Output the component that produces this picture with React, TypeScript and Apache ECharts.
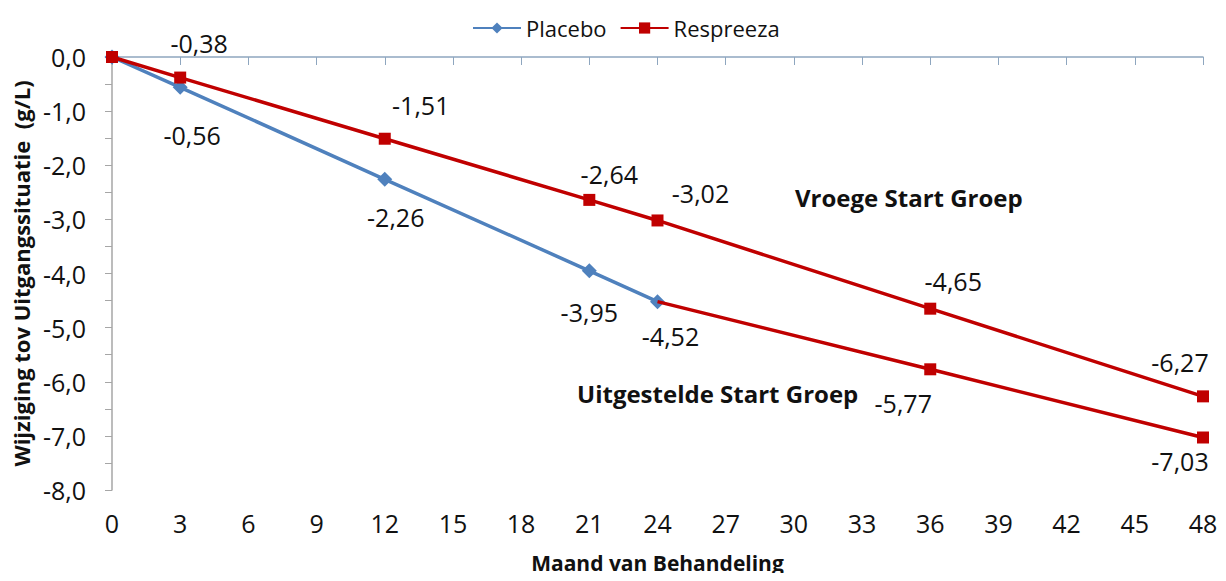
import React, { useEffect, useRef } from "react";
import * as echarts from "echarts";

const months = [0, 3, 12, 21, 24, 36, 48];
const placeboValues = [0, -0.56, -2.26, -3.95, -4.52];
const earlyValues = [0, -0.38, -1.51, -2.64, -3.02, -4.65, -6.27];
const delayedMonths = [24, 36, 48];
const delayedValues = [-4.52, -5.77, -7.03];
const yTicks = [0, -1, -2, -3, -4, -5, -6, -7, -8];

const placeboOffsets = [null, [12, 48], [11, 38], [0, 41], [13, 34]];
const earlyOffsets = [null, [19, -35], [36, -34], [20, -26], [43, -27], [23, -28], [-23, -34]];
const delayedOffsets = [null, [-27, 34], [-23, 24]];

const FONT = "'Open Sans', 'Noto Sans', sans-serif";
const fmt = (v: number, d = 2) => v.toFixed(d).replace(".", ",");

function buildData(xs: number[], ys: number[], offsets: (number[] | null)[], hideFirstSymbol = false) {
  return ys.map((v, i) => {
    const off = offsets[i];
    const item: any = { value: [xs[i], v] };
    if (off) {
      item.label = {
        show: true,
        position: "inside",
        offset: off,
        formatter: fmt(v),
        fontSize: 25,
        color: "#111",
        fontFamily: FONT,
      };
    }
    if (hideFirstSymbol && i === 0) item.symbolSize = 0;
    return item;
  });
}

export default function App() {
  const ref = useRef<HTMLDivElement>(null);
  useEffect(() => {
    const chart = echarts.init(ref.current!, null, { renderer: "svg" });
    chart.setOption({
      animation: false,
      legend: {
        data: ["Placebo", "Respreeza"],
        top: 12,
        left: 467,
        itemWidth: 48,
        itemHeight: 14,
        itemGap: 13,
        textStyle: { fontSize: 22, fontFamily: FONT, color: "#111" },
      },
      grid: { left: 112, right: 23, top: 57, bottom: 91, containLabel: false },
      xAxis: {
        type: "value",
        min: 0,
        max: 48,
        interval: 3,
        name: "Maand van Behandeling",
        nameLocation: "middle",
        nameGap: 62,
        nameTextStyle: { fontSize: 21, fontWeight: "bold", fontFamily: FONT, color: "#111" },
        axisLine: { lineStyle: { color: "#8EA6BF", width: 1.5 } },
        axisTick: { show: true, length: 8, lineStyle: { color: "#8EA6BF" } },
        axisLabel: { fontSize: 25, fontFamily: FONT, color: "#111", margin: 20 },
        splitLine: { show: false },
      },
      yAxis: {
        type: "value",
        min: -8,
        max: 0,
        interval: 1,
        name: "Wijziging tov Uitgangssituatie  (g/L)",
        nameLocation: "middle",
        nameGap: 80,
        nameRotate: 90,
        nameTextStyle: { fontSize: 22, fontWeight: "bold", fontFamily: FONT, color: "#111" },
        axisLine: { show: true, lineStyle: { color: "#A6A6A6", width: 1.5 } },
        axisTick: { show: true, length: 7, inside: false, lineStyle: { color: "#A6A6A6" } },
        minorTick: { show: true, splitNumber: 2, length: 7, lineStyle: { color: "#A6A6A6" } },
        axisLabel: {
          fontSize: 25,
          fontFamily: FONT,
          color: "#111",
          margin: 26,
          formatter: (v: number) => (yTicks.includes(v) ? fmt(v, 1) : ""),
        },
        splitLine: { show: false },
      },
      series: [
        {
          name: "Respreeza",
          type: "line",
          data: buildData(months, earlyValues, earlyOffsets),
          symbol: "rect",
          symbolSize: 12,
          lineStyle: { color: "#C00000", width: 3.5 },
          itemStyle: { color: "#C00000" },
          z: 3,
        },
        {
          name: "Respreeza",
          type: "line",
          data: buildData(delayedMonths, delayedValues, delayedOffsets, true),
          symbol: "rect",
          symbolSize: 12,
          lineStyle: { color: "#C00000", width: 3.5 },
          itemStyle: { color: "#C00000" },
          z: 3,
        },
        {
          name: "Placebo",
          type: "line",
          data: buildData(months, placeboValues, placeboOffsets),
          symbol: "diamond",
          symbolSize: 15,
          lineStyle: { color: "#4F81BD", width: 3.5 },
          itemStyle: { color: "#4F81BD" },
          z: 2,
        },
      ],
      graphic: [
        {
          type: "text",
          x: 795,
          y: 197,
          style: { text: "Vroege Start Groep", fontSize: 24, fontWeight: "bold", fontFamily: FONT, fill: "#111", verticalAlign: "middle" },
        },
        {
          type: "text",
          x: 577,
          y: 393,
          style: { text: "Uitgestelde Start Groep", fontSize: 24, fontWeight: "bold", fontFamily: FONT, fill: "#111", verticalAlign: "middle" },
        },
      ],
    });
    return () => chart.dispose();
  }, []);
  return <div ref={ref} style={{ width: 1226, height: 581, margin: -8 }} />;
}
